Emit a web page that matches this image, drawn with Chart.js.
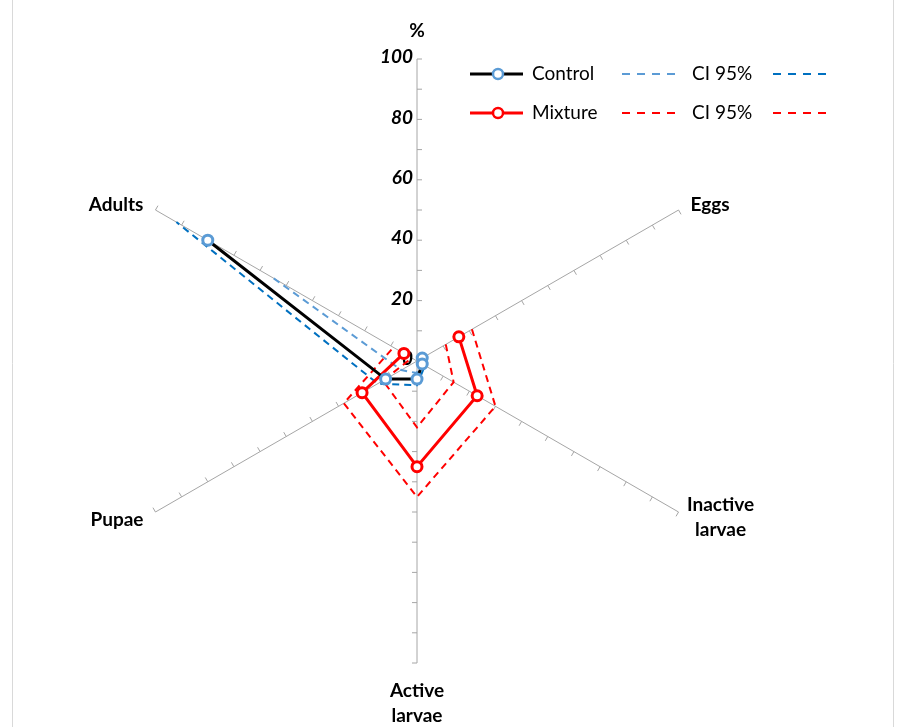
<!DOCTYPE html>
<html>
<head>
<meta charset="utf-8">
<script src="https://cdn.jsdelivr.net/npm/chart.js@4.4.1/dist/chart.umd.min.js"></script>
<style>
  html, body { margin: 0; padding: 0; background: #fff; }
  #wrap { width: 901px; height: 727px; }
</style>
</head>
<body>
<div id="wrap"><canvas id="stage-chart" width="901" height="727"></canvas></div>
<script>
// spokes, clockwise from the top one
var stages = ['%', 'Eggs', ['Inactive', 'larvae'], ['Active', 'larvae'], 'Pupae', 'Adults'];
var tickValues = [0, 20, 40, 60, 80, 100];

// control
var controlMean = [null, 2, 2, 6, 12, 80];
var controlLow  = [null, 1, 1, 4, 6, 55];
var controlHigh = [null, 3, 3, 8, 15, 92];

// mixture
var mixtureMean = [null, 16, 23, 35, 21, 5];
var mixtureLow  = [null, 11, 14, 22, 13, 2];
var mixtureHigh = [null, 21, 30, 45, 28, 9];

var FONT = 'Lato, "Open Sans", sans-serif';
var AXIS_GREY = '#a6a6a6';

//white page + thin side frame------
var framePlugin = {
  id: 'frame',
  beforeDraw: function (chart) {
    var c = chart.ctx;
    c.save();
    c.fillStyle = '#fff';
    c.fillRect(0, 0, chart.width, chart.height);
    c.strokeStyle = '#d9d9d9';
    c.lineWidth = 1;
    c.beginPath();
    c.moveTo(12.5, 0); c.lineTo(12.5, chart.height);
    c.moveTo(893.5, 0); c.lineTo(893.5, chart.height);
    c.stroke();
    c.restore();
  }
};

//small ticks on every spoke, value labels and spoke names------
var spokePlugin = {
  id: 'spokes',
  beforeDatasetsDraw: function (chart) {
    var r = chart.scales.r;
    var c = chart.ctx;
    c.save();
    c.strokeStyle = AXIS_GREY;
    c.lineWidth = 1;
    for (var i = 0; i < stages.length; i++) {
      var a = r.getIndexAngle(i) - Math.PI / 2;
      var px = -Math.sin(a), py = Math.cos(a);
      for (var v = 10; v <= 100; v += 10) {
        var p = r.getPointPosition(i, r.getDistanceFromCenterForValue(v));
        c.beginPath();
        c.moveTo(p.x, p.y);
        c.lineTo(p.x + px * 5, p.y + py * 5);
        c.stroke();
      }
    }

    // value labels on the upright spoke
    c.fillStyle = '#000';
    c.font = 'italic bold 19px ' + FONT;
    c.textAlign = 'right';
    c.textBaseline = 'middle';
    tickValues.forEach(function (v) {
      var p = r.getPointPosition(0, r.getDistanceFromCenterForValue(v));
      c.fillText(String(v), p.x - 4, p.y - 2);
    });

    // spoke names
    var place = [
      { dx: 0, dy: -28, align: 'center' },
      { dx: 12, dy: -5, align: 'left' },
      { dx: 42, dy: -7, align: 'center' },
      { dx: 0, dy: 28, align: 'center' },
      { dx: -12, dy: 8, align: 'right' },
      { dx: -12, dy: -5, align: 'right' }
    ];
    c.font = 'bold 19px ' + FONT;
    for (var k = 0; k < stages.length; k++) {
      var end = r.getPointPosition(k, r.drawingArea);
      var lines = [].concat(stages[k]);
      c.textAlign = place[k].align;
      lines.forEach(function (t, n) {
        c.fillText(t, end.x + place[k].dx, end.y + place[k].dy + n * 25);
      });
    }
    c.restore();
  }
};

//legend top right------
var legendPlugin = {
  id: 'cornerLegend',
  afterDraw: function (chart) {
    var c = chart.ctx;
    var rows = [
      { y: 74, line: '#000', ring: '#5b9bd5', name: 'Control', ci1: '#5b9bd5', ci2: '#0070c0' },
      { y: 113, line: '#ff0000', ring: '#ff0000', name: 'Mixture', ci1: '#ff0000', ci2: '#ff0000' }
    ];
    c.save();
    rows.forEach(function (row) {
      c.setLineDash([]);
      c.strokeStyle = row.line;
      c.lineWidth = 3;
      c.beginPath(); c.moveTo(470, row.y); c.lineTo(523, row.y); c.stroke();
      c.fillStyle = '#fff';
      c.strokeStyle = row.ring;
      c.lineWidth = 2.5;
      c.beginPath(); c.arc(498, row.y, 5, 0, Math.PI * 2); c.fill(); c.stroke();

      c.fillStyle = '#000';
      c.font = '19px ' + FONT;
      c.textAlign = 'left';
      c.textBaseline = 'middle';
      c.fillText(row.name, 532, row.y);
      c.fillText('CI 95%', 692, row.y);

      c.lineWidth = 2;
      c.setLineDash([8, 7]);
      c.strokeStyle = row.ci1;
      c.beginPath(); c.moveTo(622, row.y); c.lineTo(676, row.y); c.stroke();
      c.strokeStyle = row.ci2;
      c.beginPath(); c.moveTo(773, row.y); c.lineTo(828, row.y); c.stroke();
    });
    c.restore();
  }
};

function ciSet(label, data, colour) {
  return {
    label: label,
    data: data,
    borderColor: colour,
    borderWidth: 2,
    borderDash: [7, 5],
    pointRadius: 0,
    pointHoverRadius: 0,
    fill: false,
    tension: 0
  };
}

var ctx = document.getElementById('stage-chart').getContext('2d');

new Chart(ctx, {
  type: 'radar',
  data: {
    labels: stages,
    datasets: [{
      label: 'Control',
      data: controlMean,
      borderColor: '#000',
      borderWidth: 3,
      pointRadius: 5,
      pointBorderWidth: 3,
      pointBorderColor: '#5b9bd5',
      pointBackgroundColor: '#fff',
      fill: false,
      tension: 0
    }, {
      label: 'Mixture',
      data: mixtureMean,
      borderColor: '#ff0000',
      borderWidth: 3,
      pointRadius: 5,
      pointBorderWidth: 3,
      pointBorderColor: '#ff0000',
      pointBackgroundColor: '#fff',
      fill: false,
      tension: 0
    },
      ciSet('CI 95% low', controlLow, '#5b9bd5'),
      ciSet('CI 95% high', controlHigh, '#0070c0'),
      ciSet('CI 95% low', mixtureLow, '#ff0000'),
      ciSet('CI 95% high', mixtureHigh, '#ff0000')
    ]
  },
  options: {
    responsive: false,
    animation: false,
    spanGaps: false,
    layout: { padding: { top: 59, bottom: 64, left: 0, right: 67 } },
    plugins: {
      legend: { display: false },
      tooltip: { enabled: false }
    },
    scales: {
      r: {
        min: 0,
        max: 100,
        ticks: { display: false, stepSize: 20 },
        grid: { display: false },
        angleLines: { display: true, color: AXIS_GREY, lineWidth: 1 },
        pointLabels: { display: false }
      }
    }
  },
  plugins: [framePlugin, spokePlugin, legendPlugin]
});
</script>
</body>
</html>
